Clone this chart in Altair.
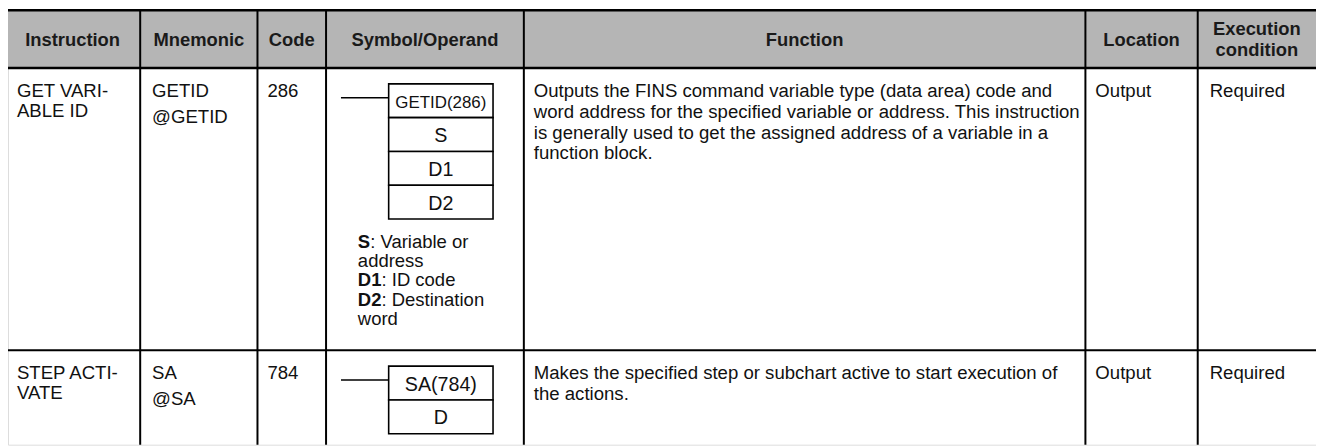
import altair as alt
import pandas as pd

# ---------------- content ----------------
headers = ["Instruction", "Mnemonic", "Code", "Symbol/Operand", "Function", "Location", "Execution\ncondition"]
instructions = [["GET VARI-", "ABLE ID"], ["STEP ACTI-", "VATE"]]
mnemonics = [["GETID", "@GETID"], ["SA", "@SA"]]
codes = ["286", "784"]
symbol_cells = [["GETID(286)", "S", "D1", "D2"], ["SA(784)", "D"]]
operand_keys = ["S", "", "D1", "D2", ""]
operand_texts = [": Variable or", "address", ": ID code", ": Destination", "word"]
functions = [
    ["Outputs the FINS command variable type (data area) code and",
     "word address for the specified variable or address. This instruction",
     "is generally used to get the assigned address of a variable in a",
     "function block."],
    ["Makes the specified step or subchart active to start execution of",
     "the actions."],
]
locations = ["Output", "Output"]
conditions = ["Required", "Required"]

# ---------------- layout (page pixels) ----------------
W, H = 1324, 446
col_edges = [5, 141, 259, 328, 527, 1092, 1205, 1324]
text_pad = [12, 12, 10, None, 10, 10, 12]
table_top = 9
header_bottom = 67
row_tops = [67, 351]
FONT = "Liberation Sans"
FS = 18.7
HFS = 18.5
GRAY = "#b5b5b5"

xs = alt.Scale(domain=[8, W], nice=False, zero=False)
ys = alt.Scale(domain=[8, H], nice=False, zero=False, reverse=True)
X = lambda f="x": alt.X(f"{f}:Q", scale=xs, axis=None)
Y = lambda f="y": alt.Y(f"{f}:Q", scale=ys, axis=None)

# header background
hdr_bg = pd.DataFrame([{"x": col_edges[0], "x2": col_edges[-1], "y": table_top, "y2": header_bottom}])
l_hdr = alt.Chart(hdr_bg).mark_rect(color=GRAY).encode(
    x=X(), x2="x2:Q", y=Y(), y2="y2:Q")

# horizontal rules
hrules = pd.DataFrame([
    {"x": col_edges[0], "x2": col_edges[-1], "y": table_top, "w": 2.5},
    {"x": col_edges[0], "x2": col_edges[-1], "y": header_bottom, "w": 2.5},
    {"x": col_edges[0], "x2": col_edges[-1], "y": row_tops[1], "w": 2.0},
])
l_h = alt.Chart(hrules).mark_rule(color="black").encode(
    x=X(), x2="x2:Q", y=Y(), strokeWidth=alt.StrokeWidth("w:Q", scale=None))

# vertical rules
vrules = pd.DataFrame([{"x": e, "y": table_top, "y2": H} for e in col_edges[1:-1]])
l_v = alt.Chart(vrules).mark_rule(color="black", strokeWidth=2).encode(
    x=X(), y=Y(), y2="y2:Q")

# header text
hrows = []
for i, h in enumerate(headers):
    cx = (col_edges[i] + col_edges[i + 1]) / 2
    lines = h.split("\n")
    if len(lines) == 1:
        hrows.append({"x": cx, "y": 45, "t": lines[0]})
    else:
        for j, ln in enumerate(lines):
            hrows.append({"x": cx, "y": 33.5 + 21 * j, "t": ln})
l_ht = alt.Chart(pd.DataFrame(hrows)).mark_text(
    align="center", baseline="alphabetic", font=FONT, fontSize=HFS, fontWeight="bold", color="#1a1a1a"
).encode(x=X(), y=Y(), text="t:N")

# body text
brows = []
for r, top in enumerate(row_tops):
    base = top + 29
    cols = [instructions[r], mnemonics[r], [codes[r]], None, functions[r], [locations[r]], [conditions[r]]]
    for c, lines in enumerate(cols):
        if lines is None:
            continue
        x0 = col_edges[c] + text_pad[c]
        for j, ln in enumerate(lines):
            step = 26 if c == 1 else (21 if c == 4 else 20)
            brows.append({"x": x0, "y": base + step * j, "t": ln})
l_bt = alt.Chart(pd.DataFrame(brows)).mark_text(
    align="left", baseline="alphabetic", font=FONT, fontSize=FS, color="#111111"
).encode(x=X(), y=Y(), text="t:N")

# symbol boxes
box_l, box_r, cell_h = 391, 496, 34
boxes, btexts, leads = [], [], []
for r, top in enumerate(row_tops):
    btop = top + 16
    for k, lab in enumerate(symbol_cells[r]):
        y0 = btop + cell_h * k
        boxes.append({"x": box_l, "x2": box_r, "y": y0, "y2": y0 + cell_h})
        btexts.append({"x": (box_l + box_r) / 2, "y": y0 + cell_h / 2 + 7.5, "t": lab,
                       "fs": 17 if len(lab) > 8 else 19.8})
    leads.append({"x": 343, "x2": box_l, "y": btop + 14})
l_box = alt.Chart(pd.DataFrame(boxes)).mark_rect(fill="white", stroke="black", strokeWidth=1.6).encode(
    x=X(), x2="x2:Q", y=Y(), y2="y2:Q")
l_btxt = alt.Chart(pd.DataFrame(btexts)).mark_text(
    align="center", baseline="alphabetic", font=FONT, color="#111111"
).encode(x=X(), y=Y(), text="t:N", size=alt.Size("fs:Q", scale=None))
l_lead = alt.Chart(pd.DataFrame(leads)).mark_rule(color="black", strokeWidth=1.6).encode(
    x=X(), x2="x2:Q", y=Y())

# operand notes
bold_w = {"S": 0.667, "D": 0.722, "1": 0.556, "2": 0.556}
OFS = 18.6
op_x = 360
krows, trows = [], []
for j, (k, t) in enumerate(zip(operand_keys, operand_texts)):
    yb = row_tops[0] + 181 + 19.4 * j
    w = sum(bold_w[ch] for ch in k) * OFS
    if k:
        krows.append({"x": op_x, "y": yb, "t": k})
    trows.append({"x": op_x + w, "y": yb, "t": t})
l_ok = alt.Chart(pd.DataFrame(krows)).mark_text(
    align="left", baseline="alphabetic", font=FONT, fontSize=OFS, fontWeight="bold", color="#111111"
).encode(x=X(), y=Y(), text="t:N")
l_ot = alt.Chart(pd.DataFrame(trows)).mark_text(
    align="left", baseline="alphabetic", font=FONT, fontSize=OFS, color="#111111"
).encode(x=X(), y=Y(), text="t:N")

chart = alt.layer(l_hdr, l_h, l_v, l_ht, l_bt, l_box, l_btxt, l_lead, l_ok, l_ot).properties(
    width=W - 8, height=H - 8, padding=0, autosize=alt.AutoSizeParams(type="none")
).configure_view(stroke=None).configure(background="white")

chart.save("out.html", embed_options={"renderer": "svg", "actions": False})
